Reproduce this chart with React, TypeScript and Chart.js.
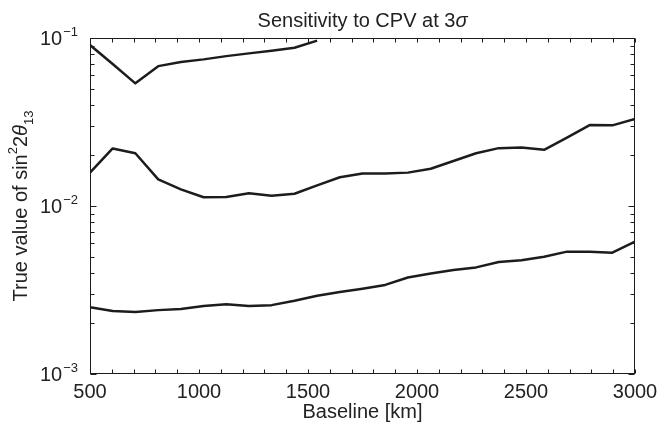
import { useEffect, useRef } from 'react';
import { Chart, registerables } from 'chart.js';

Chart.register(...registerables);

// Baseline [km]
const baseline = [500, 604, 708, 813, 917, 1021, 1125, 1229, 1333, 1438, 1542, 1646, 1750, 1854, 1958, 2063, 2167, 2271, 2375, 2479, 2583, 2688, 2792, 2896, 3000];

// True value of sin^2 2theta13 — three contours
const upperCurve = [0.0908, 0.070, 0.0537, 0.068, 0.072, 0.0746, 0.078, 0.081, 0.084, 0.0875, 0.0964];
const middleCurve = [0.0158, 0.0220, 0.0206, 0.0144, 0.01257, 0.01127, 0.0113, 0.0119, 0.01151, 0.01183, 0.01327, 0.01482, 0.01563, 0.0156, 0.0158, 0.01667, 0.01853, 0.0206, 0.0221, 0.0223, 0.0216, 0.0255, 0.0303, 0.0302, 0.033];
const lowerCurve = [0.00250, 0.00237, 0.00234, 0.00240, 0.00244, 0.00254, 0.0026, 0.00254, 0.00257, 0.00273, 0.00292, 0.00308, 0.00322, 0.00339, 0.00375, 0.00397, 0.00416, 0.00431, 0.00464, 0.00475, 0.00499, 0.00535, 0.00535, 0.00527, 0.00614];

const xTickLabels = [500, 1000, 1500, 2000, 2500, 3000];
const xMinorStep = 100;
const yTickExponents = [-3, -2, -1];

const FONT = '"Liberation Sans", Arial, Helvetica, sans-serif';
const INK = '#1c1c1c';
const TEXT = '#222222';

const toPoints = (ys: number[]) => ys.map((v, i) => ({ x: baseline[i], y: v }));

const framePlugin = {
  id: 'frame',
  afterDraw(chart: any) {
    const { ctx, chartArea } = chart;
    const { left, right, top, bottom } = chartArea;
    const xs = chart.scales.x;
    const ys = chart.scales.y;
    ctx.save();
    ctx.strokeStyle = INK;
    ctx.lineWidth = 1;
    const L = Math.round(left) + 0.5;
    const R = Math.round(right) - 0.5;
    const T = Math.round(top) + 0.5;
    const B = Math.round(bottom) - 0.5;
    ctx.strokeRect(L, T, R - L, B - T);

    ctx.beginPath();
    for (let v = xs.min; v <= xs.max; v += xMinorStep) {
      const px = Math.round(xs.getPixelForValue(v)) + 0.5;
      ctx.moveTo(px, B);
      ctx.lineTo(px, B - 4);
      ctx.moveTo(px, T);
      ctx.lineTo(px, T + 4);
    }
    for (let e = -3; e <= -1; e++) {
      for (let m = 1; m <= 9; m++) {
        const v = m * Math.pow(10, e);
        if (v > ys.max * 1.0001) break;
        const py = Math.round(ys.getPixelForValue(v)) + 0.5;
        const len = m === 1 ? 6 : 4;
        ctx.moveTo(L, py);
        ctx.lineTo(L + len, py);
        ctx.moveTo(R, py);
        ctx.lineTo(R - len, py);
      }
    }
    ctx.stroke();

    ctx.fillStyle = TEXT;
    // x tick labels
    ctx.font = `20px ${FONT}`;
    ctx.textAlign = 'center';
    ctx.textBaseline = 'alphabetic';
    xTickLabels.forEach((v) => {
      ctx.fillText(String(v), xs.getPixelForValue(v), 398);
    });

    // y tick labels 10^e
    yTickExponents.forEach((e) => {
      const py = ys.getPixelForValue(Math.pow(10, e));
      ctx.font = `13px ${FONT}`;
      const sup = '\u2212' + String(-e);
      const ws = ctx.measureText(sup).width;
      ctx.font = `20px ${FONT}`;
      const wb = ctx.measureText('10').width;
      const rightEdge = 78;
      ctx.textAlign = 'left';
      ctx.textBaseline = 'alphabetic';
      ctx.fillText('10', rightEdge - ws - wb - 1, py + 7);
      ctx.font = `13px ${FONT}`;
      ctx.fillText(sup, rightEdge - ws, py - 2);
    });

    // x axis title
    ctx.font = `20px ${FONT}`;
    ctx.textAlign = 'center';
    ctx.fillText('Baseline [km]', (left + right) / 2, 418);

    // chart title
    const t1 = 'Sensitivity to CPV at 3';
    ctx.font = `20px ${FONT}`;
    const w1 = ctx.measureText(t1).width;
    ctx.font = `italic 20px ${FONT}`;
    const w2 = ctx.measureText('\u03c3').width;
    const sx = (left + right) / 2 - (w1 + w2) / 2;
    ctx.textAlign = 'left';
    ctx.font = `20px ${FONT}`;
    ctx.fillText(t1, sx, 27);
    ctx.font = `italic 20px ${FONT}`;
    ctx.fillText('\u03c3', sx + w1, 27);

    // y axis title (rotated)
    const parts = [
      { t: 'True value of sin', f: `20px ${FONT}`, dy: 0 },
      { t: '2', f: `13px ${FONT}`, dy: -10 },
      { t: '2', f: `20px ${FONT}`, dy: 0 },
      { t: '\u03b8', f: `italic 20px ${FONT}`, dy: 0 },
      { t: '13', f: `13px ${FONT}`, dy: 6 },
    ];
    let total = 0;
    const widths = parts.map((p) => {
      ctx.font = p.f;
      const w = ctx.measureText(p.t).width;
      total += w;
      return w;
    });
    ctx.save();
    ctx.translate(27, (top + bottom) / 2);
    ctx.rotate(-Math.PI / 2);
    let cx = -total / 2;
    parts.forEach((p, i) => {
      ctx.font = p.f;
      ctx.fillText(p.t, cx, p.dy);
      cx += widths[i];
    });
    ctx.restore();

    ctx.restore();
  },
};

export default function App() {
  const ref = useRef<HTMLCanvasElement | null>(null);

  useEffect(() => {
    if (!ref.current) return;
    const lineStyle = {
      borderColor: INK,
      borderWidth: 2.5,
      pointRadius: 0,
      tension: 0,
      fill: false,
      borderJoinStyle: 'round' as const,
    };
    const chart = new Chart(ref.current, {
      type: 'line',
      data: {
        datasets: [
          { label: 'upper', data: toPoints(upperCurve), ...lineStyle },
          { label: 'middle', data: toPoints(middleCurve), ...lineStyle },
          { label: 'lower', data: toPoints(lowerCurve), ...lineStyle },
        ],
      },
      options: {
        animation: false,
        responsive: true,
        maintainAspectRatio: false,
        layout: { padding: { left: 90, top: 38, right: 22, bottom: 52 } },
        plugins: {
          legend: { display: false },
          tooltip: { enabled: false },
          title: { display: false },
        },
        scales: {
          x: { type: 'linear', min: 500, max: 3000, display: false },
          y: { type: 'logarithmic', min: 0.001, max: 0.1, display: false },
        },
      },
      plugins: [framePlugin],
    });
    return () => chart.destroy();
  }, []);

  return (
    <div style={{ position: 'fixed', left: 0, top: 0, width: 657, height: 426, background: '#fff' }}>
      <canvas ref={ref} />
    </div>
  );
}
